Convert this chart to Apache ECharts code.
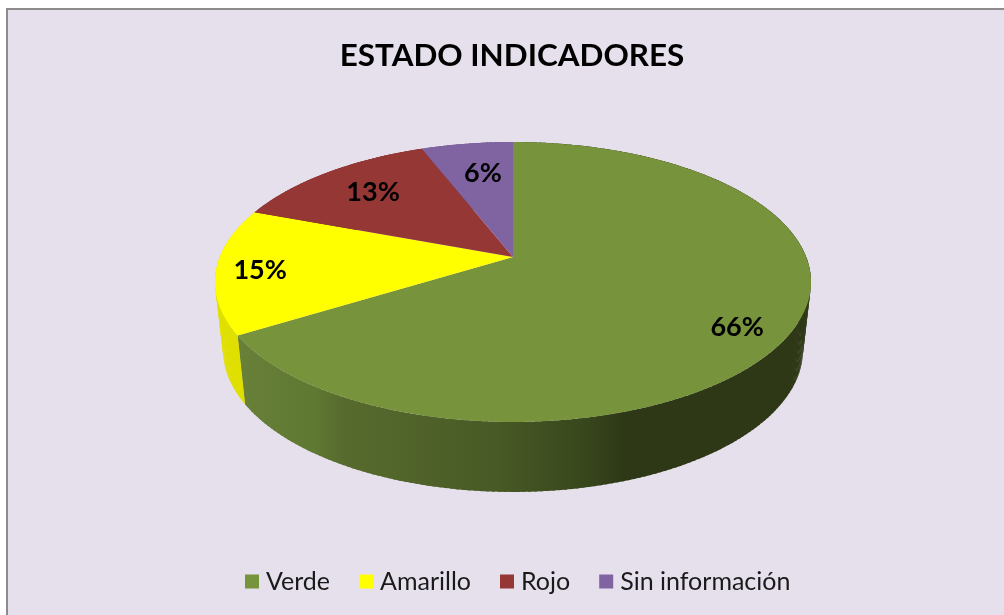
<!DOCTYPE html>
<html>
<head>
<meta charset="utf-8">
<style>html,body{margin:0;padding:0;background:#fff;overflow:hidden}#c{width:1004px;height:615px}</style>
<script src="https://cdn.jsdelivr.net/npm/echarts@6/dist/echarts.min.js"></script>
</head>
<body>
<div id="c"></div>
<script>
const titleText = 'ESTADO INDICADORES';
const categories = ['Verde', 'Amarillo', 'Rojo', 'Sin información'];
const values = [66.2, 14.5, 13.4, 5.9];
const colors = ['#77933C', '#FFFF00', '#953735', '#8064A2'];
const wallColors = [null, '#E0E000', '#7A2C2A', '#685285'];
// label anchors in unit-disc coordinates of the pie face
const labelAnchors = [[0.70, 0.473], [-0.848, 0.094], [-0.522, -0.525], [-0.115, -0.697]];

// projection of the pie's unit disc on screen (tilted view with perspective)
const cx = 513, apexY = 257, R = 293.2, pa = 89.6, pc = -0.1786;
function project(u, v) {
  const w = 1 + pc * v;
  return [cx + R * u / w, (pa * v + apexY) / w];
}
function rim(t) { return project(Math.sin(t), -Math.cos(t)); }
function floor(t) {
  const p = rim(t);
  return [cx + 0.973 * (p[0] - cx), 350 + 1.014 * (p[1] - 282)];
}
const total = values.reduce((a, b) => a + b, 0);
function arc(fn, a, b) {
  const pts = [], n = Math.max(2, Math.ceil((b - a) / (Math.PI / 180)));
  for (let i = 0; i <= n; i++) pts.push(fn(a + (b - a) * i / n));
  return pts;
}
const wallShade = new echarts.graphic.LinearGradient(238, 0, 811, 0, [
  {offset: 0, color: '#688038'},
  {offset: 0.135, color: '#5F7832'},
  {offset: 0.18, color: '#586B2E'},
  {offset: 0.45, color: '#485A25'},
  {offset: 0.61, color: '#38461C'},
  {offset: 0.67, color: '#2E3816'},
  {offset: 1, color: '#2E3816'}
], true);

function wallStrips(a, b, fill, z2) {
  // one overlapping quad per step: their union also fills the tangent
  // gaps at the sides that a single ring polygon would leave empty
  const step = Math.PI / 180, out = [];
  for (let t = a; t < b; t += step) {
    const t2 = Math.min(b, t + step * 1.5);
    out.push({
      type: 'polygon', z2: z2,
      shape: {points: [rim(t), rim(t2), floor(t2), floor(t)]},
      style: {fill: fill}
    });
  }
  return out;
}

function renderSlice(params, api) {
  const i = params.seriesIndex;
  const value = api.value(0);
  let before = 0;
  for (let k = 0; k < i; k++) before += values[k];
  const a = before / total * 2 * Math.PI;
  const b = (before + value) / total * 2 * Math.PI;
  const rimPts = arc(rim, a, b);
  const lab = project(labelAnchors[i][0], labelAnchors[i][1]);
  return {
    type: 'group',
    children: wallStrips(a, b, i === 0 ? wallShade : wallColors[i], 1 + i).concat([
      {
        type: 'polygon', z2: 20,
        shape: {points: [project(0, 0)].concat(rimPts)},
        style: {fill: colors[i]}
      },
      {
        type: 'text', z2: 30,
        style: {
          text: Math.round(value / total * 100 + 1e-9) + '%',
          x: lab[0], y: lab[1],
          align: 'center', verticalAlign: 'middle',
          font: 'bold 27px Lato, sans-serif', fill: '#000'
        }
      }
    ])
  };
}

const chart = echarts.init(document.getElementById('c'), null, {renderer: 'canvas'});
chart.setOption({
  animation: false,
  backgroundColor: '#ffffff',
  title: {
    text: titleText,
    left: 507, top: 35, textAlign: 'center',
    textStyle: {fontFamily: 'Lato, sans-serif', fontWeight: 'bold', fontSize: 31.4, color: '#000'}
  },
  legend: {
    data: categories,
    left: 245, top: 569,
    icon: 'rect',
    itemWidth: 14, itemHeight: 14, itemGap: 29,
    padding: 0,
    selectedMode: false,
    textStyle: {fontFamily: 'Lato, sans-serif', fontSize: 25, color: '#1a1a1a', padding: [0, 0, 0, 2]}
  },
  graphic: [{
    type: 'rect', z: -1, silent: true,
    shape: {x: 7, y: 9, width: 1040, height: 660},
    style: {fill: '#E6E0EC', stroke: '#8C8C8C', lineWidth: 2}
  }],
  series: categories.map((name, i) => ({
    type: 'custom',
    name: name,
    coordinateSystem: 'none',
    renderItem: renderSlice,
    itemStyle: {color: colors[i]},
    data: [{name: name, value: [values[i]]}]
  }))
});
</script>
</body>
</html>
